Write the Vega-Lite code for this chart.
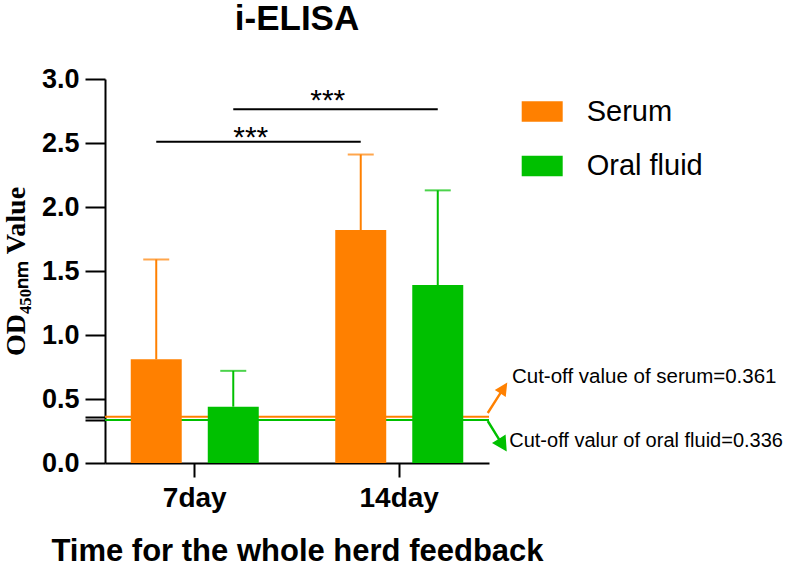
{
  "$schema": "https://vega.github.io/schema/vega-lite/v6.json",
  "width": 384,
  "height": 384,
  "autosize": {"type": "none"},
  "padding": {"left": 105, "top": 79, "right": 297, "bottom": 105},
  "background": "white",
  "title": {"text": "i-ELISA", "font": "Liberation Sans", "fontSize": 35, "fontWeight": "bold", "color": "#000", "offset": 28, "anchor": "middle"},
  "config": {
    "view": {"stroke": null},
    "axis": {"grid": false, "domainColor": "#000", "tickColor": "#000", "labelColor": "#000", "titleColor": "#000", "domainWidth": 2, "tickWidth": 2}
  },
  "datasets": {
    "bars": [
      {"day": "7day", "group": "Serum", "mean": 0.81, "upper": 1.59},
      {"day": "7day", "group": "Oral fluid", "mean": 0.44, "upper": 0.72},
      {"day": "14day", "group": "Serum", "mean": 1.82, "upper": 2.41},
      {"day": "14day", "group": "Oral fluid", "mean": 1.39, "upper": 2.13}
    ],
    "brackets": [
      {"bracket": "serum", "day": "7day", "group": "Serum", "y": 2.51},
      {"bracket": "serum", "day": "14day", "group": "Serum", "y": 2.51},
      {"bracket": "oral", "day": "7day", "group": "Oral fluid", "y": 2.763},
      {"bracket": "oral", "day": "14day", "group": "Oral fluid", "y": 2.763}
    ],
    "stars": [
      {"day": "7day", "group": "Serum", "y": 2.467, "label": "***"},
      {"day": "7day", "group": "Oral fluid", "y": 2.754, "label": "***"}
    ],
    "cutoffs": [
      {"group": "Serum", "cutoff": 0.361},
      {"group": "Oral fluid", "cutoff": 0.336}
    ]
  },
  "layer": [
    {
      "data": {"name": "cutoffs"},
      "mark": {"type": "rule", "strokeWidth": 2},
      "encoding": {
        "y": {"field": "cutoff", "type": "quantitative"},
        "color": {"field": "group", "type": "nominal"}
      }
    },
    {
      "data": {"name": "bars"},
      "mark": {"type": "bar", "opacity": 1},
      "encoding": {
        "x": {"field": "day", "type": "nominal", "sort": ["7day", "14day"],
          "scale": {"domain": ["7day", "14day"], "paddingInner": 0.2, "paddingOuter": 0.0389},
          "axis": {"labelAngle": 0, "tickSize": 14, "labelFont": "Liberation Sans", "labelFontSize": 28, "labelFontWeight": "bold", "labelPadding": 7,
            "title": "Time for the whole herd feedback", "titleFont": "Liberation Sans", "titleFontSize": 31, "titleFontWeight": "bold",
            "titleAnchor": "middle", "titleY": 97, "titleBaseline": "alphabetic"}},
        "xOffset": {"field": "group", "type": "nominal", "sort": ["Serum", "Oral fluid"],
          "scale": {"domain": ["Serum", "Oral fluid"], "paddingInner": 0.338, "paddingOuter": 0.231}},
        "y": {"field": "mean", "type": "quantitative",
          "scale": {"domain": [0, 3], "nice": false, "zero": true},
          "axis": {"values": [0, 0.336, 0.361, 0.5, 1, 1.5, 2, 2.5, 3],
            "labelExpr": "(datum.value > 0.3 && datum.value < 0.4) ? '' : format(datum.value, '.1f')",
            "labelOverlap": false, "tickSize": 20, "labelFont": "Liberation Sans", "labelFontSize": 27, "labelFontWeight": "bold", "labelPadding": 6,
            "title": "OD₄₅₀ₙₘ Value", "titleFont": "Liberation Serif", "titleFontSize": 28, "titleFontWeight": "bold",
            "titleX": -81, "titleY": 192, "titleAngle": -90, "titleAlign": "center", "titleBaseline": "alphabetic"}},
        "color": {"field": "group", "type": "nominal",
          "scale": {"domain": ["Serum", "Oral fluid"], "range": ["#FF8000", "#00C000"]},
          "legend": {"title": null, "orient": "none", "legendX": 416.7, "legendY": 12, "padding": 0,
            "symbolType": "M-1,-0.5H1V0.5H-1Z", "symbolSize": 1681, "symbolStrokeWidth": 0, "symbolOpacity": 1,
            "labelFont": "Liberation Sans", "labelFontSize": 29, "labelColor": "#000", "labelOffset": 24, "rowPadding": 18.5, "labelLimit": 0,
            "encode": {"symbols": {"update": {"opacity": {"value": 1}, "fillOpacity": {"value": 1}, "strokeOpacity": {"value": 0}}}}}}
      }
    },
    {
      "data": {"name": "bars"},
      "mark": {"type": "rule", "strokeWidth": 2},
      "encoding": {
        "x": {"field": "day", "type": "nominal"},
        "xOffset": {"field": "group", "type": "nominal"},
        "y": {"field": "mean", "type": "quantitative"},
        "y2": {"field": "upper"},
        "color": {"field": "group", "type": "nominal"}
      }
    },
    {
      "data": {"name": "bars"},
      "mark": {"type": "tick", "size": 26, "thickness": 2},
      "encoding": {
        "x": {"field": "day", "type": "nominal"},
        "xOffset": {"field": "group", "type": "nominal"},
        "y": {"field": "upper", "type": "quantitative"},
        "color": {"field": "group", "type": "nominal"}
      }
    },
    {
      "data": {"name": "brackets"},
      "mark": {"type": "line", "strokeWidth": 2, "color": "#000"},
      "encoding": {
        "x": {"field": "day", "type": "nominal"},
        "xOffset": {"field": "group", "type": "nominal"},
        "y": {"field": "y", "type": "quantitative"},
        "detail": {"field": "bracket", "type": "nominal"}
      }
    },
    {
      "data": {"name": "stars"},
      "mark": {"type": "text", "font": "Liberation Sans", "fontSize": 30, "color": "#000", "align": "center", "baseline": "alphabetic", "dx": 94.5},
      "encoding": {
        "x": {"field": "day", "type": "nominal"},
        "xOffset": {"field": "group", "type": "nominal"},
        "y": {"field": "y", "type": "quantitative"},
        "text": {"field": "label"}
      }
    },
    {
      "data": {"values": [{}]},
      "mark": {"type": "point", "filled": true, "opacity": 1, "size": 1600, "strokeWidth": 0, "color": "#FF8000",
        "shape": "M-0.437,0.795L0.188,-0.182L0.412,-0.04L0.488,-0.763L-0.137,-0.39L0.087,-0.247L-0.538,0.73Z"},
      "encoding": {
        "x": {"datum": "14day", "type": "nominal", "bandPosition": 1.1006},
        "y": {"datum": 0.5098, "type": "quantitative"}
      }
    },
    {
      "data": {"values": [{}]},
      "mark": {"type": "point", "filled": true, "opacity": 1, "size": 1600, "strokeWidth": 0, "color": "#00C000",
        "shape": "M-0.526,-0.731L0.027,0.157L-0.262,0.337L0.475,0.763L0.418,-0.087L0.129,0.094L-0.424,-0.794Z"},
      "encoding": {
        "x": {"datum": "14day", "type": "nominal", "bandPosition": 1.099},
        "y": {"datum": 0.209, "type": "quantitative"}
      }
    },
    {
      "data": {"values": [{}]},
      "mark": {"type": "text", "font": "Liberation Sans", "fontSize": 20.5, "color": "#000", "align": "left", "baseline": "alphabetic", "dx": 112.7, "dy": -34},
      "encoding": {
        "x": {"datum": "14day", "type": "nominal"},
        "y": {"datum": 0.361, "type": "quantitative"},
        "text": {"value": "Cut-off value of serum=0.361"}
      }
    },
    {
      "data": {"values": [{}]},
      "mark": {"type": "text", "font": "Liberation Sans", "fontSize": 20, "color": "#000", "align": "left", "baseline": "alphabetic", "dx": 110, "dy": 26.7},
      "encoding": {
        "x": {"datum": "14day", "type": "nominal"},
        "y": {"datum": 0.336, "type": "quantitative"},
        "text": {"value": "Cut-off valur of oral fluid=0.336"}
      }
    }
  ]
}
